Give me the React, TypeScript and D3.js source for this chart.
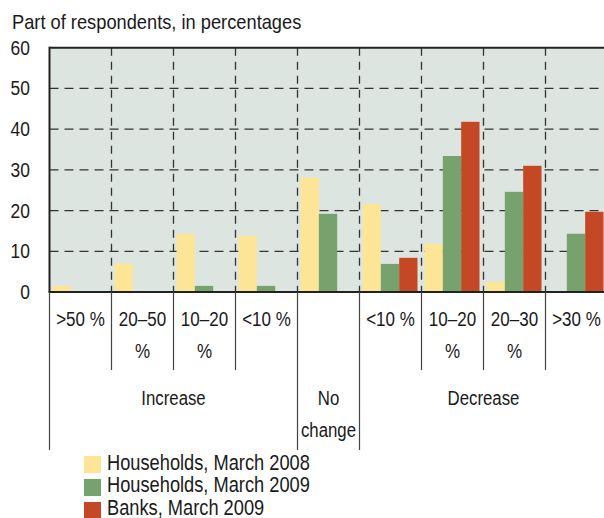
import React from "react";
import * as d3 from "d3";

// Survey answers, share of respondents (%) per expected change
const rowOneLabels = [">50 %", "20–50", "10–20", "<10 %", "", "<10 %", "10–20", "20–30", ">30 %"];
const rowTwoLabels = ["", "%", "%", "", "", "", "%", "%", ""];
const groupLabels = [["Increase"], ["No", "change"], ["Decrease"]];
const groupSpans = [4, 1, 4];

const seriesNames = ["Households, March 2008", "Households, March 2009", "Banks, March 2009"];
const households2008 = [1.5, 7, 14.3, 13.8, 28.1, 21.6, 11.8, 2.5, 0];
const households2009 = [0, 0, 1.5, 1.5, 19.2, 6.9, 33.4, 24.6, 14.3];
const banks2009: (number | null)[] = [null, null, null, null, null, 8.4, 41.8, 31, 19.7];
const seriesColors = ["#fde597", "#77a26e", "#c54826"];

const yTicks = [0, 10, 20, 30, 40, 50, 60];

const W = 604;
const H = 518;
const FONT = "'Liberation Sans', Arial, sans-serif";
const INK = "#1a1a1a";

function Txt(props: { x: number; y: number; anchor?: string; sx?: number; size?: number; children: React.ReactNode }) {
  const { x, y, anchor = "middle", sx = 0.82, size = 21, children } = props;
  return (
    <text
      transform={`translate(${x},${y}) scale(${sx},1)`}
      textAnchor={anchor}
      fontFamily={FONT}
      fontSize={size}
      fill={INK}
    >
      {children}
    </text>
  );
}

export default function App() {
  const idx = d3.range(rowOneLabels.length);
  const x = d3.scaleBand<number>().domain(idx).range([49.5, 607.5]);
  const xs = d3.scaleBand<string>().domain(seriesNames).range([3, 58]);
  const y = d3.scaleLinear().domain([0, 60]).range([292, 47.7]);

  const series = [households2008, households2009, banks2009];
  const left = x.range()[0];
  const right = x.range()[1];
  const step = x.step();
  const top = y(60);
  const base = y(0);

  // group boundaries (category indexes where a group starts)
  const groupStarts: number[] = [];
  groupSpans.reduce((acc, s) => {
    groupStarts.push(acc);
    return acc + s;
  }, 0);
  const boundaries = d3.range(idx.length + 1);
  const isGroupEdge = (b: number) => b === idx.length || groupStarts.includes(b);

  return (
    <svg
      width={W}
      height={H}
      style={{ position: "absolute", left: 0, top: 0, background: "#fff" }}
    >
      <Txt x={12} y={29} anchor="start" sx={0.87}>
        Part of respondents,  in percentages
      </Txt>

      <rect x={left} y={top} width={right - left} height={base - top} fill="#dde5e1" />

      {/* dashed grid */}
      {yTicks
        .filter((t) => t > 0 && t < 60)
        .map((t) => (
          <line
            key={`h${t}`}
            x1={left}
            x2={right}
            y1={y(t)}
            y2={y(t)}
            stroke="#333"
            strokeWidth={1.3}
            strokeDasharray="9 6"
          />
        ))}
      {boundaries
        .filter((b) => b > 0 && b < idx.length)
        .map((b) => (
          <line
            key={`v${b}`}
            x1={left + b * step}
            x2={left + b * step}
            y1={top}
            y2={base}
            stroke="#333"
            strokeWidth={1.3}
            strokeDasharray="8 6"
          />
        ))}

      {/* bars */}
      {series.map((vals, si) =>
        vals.map((v, i) =>
          v == null || v <= 0 ? null : (
            <rect
              key={`b${si}-${i}`}
              x={(x(i) as number) + (xs(seriesNames[si]) as number)}
              y={y(v)}
              width={xs.bandwidth()}
              height={base - y(v)}
              fill={seriesColors[si]}
            />
          )
        )
      )}

      {/* frame */}
      <line x1={left} x2={right} y1={top} y2={top} stroke="#222" strokeWidth={2} />
      <line x1={left} x2={left} y1={top - 1} y2={base} stroke="#222" strokeWidth={2} />
      <line x1={right} x2={right} y1={top - 1} y2={base} stroke="#222" strokeWidth={2} />
      <line x1={left - 1} x2={right} y1={base} y2={base} stroke="#222" strokeWidth={2} />

      {/* y tick labels */}
      {yTicks.map((t) => (
        <Txt key={`yl${t}`} x={30} y={y(t) + 7} anchor="end" sx={0.83}>
          {t}
        </Txt>
      ))}

      {/* category separators below the axis */}
      {boundaries.map((b) => (
        <line
          key={`s${b}`}
          x1={left + b * step}
          x2={left + b * step}
          y1={base}
          y2={isGroupEdge(b) ? 450 : 370}
          stroke="#444"
          strokeWidth={1.2}
        />
      ))}

      {/* category labels */}
      {idx.map((i) => (
        <g key={`c${i}`}>
          {rowOneLabels[i] && (
            <Txt x={(x(i) as number) + step / 2} y={325.5} sx={0.81}>
              {rowOneLabels[i]}
            </Txt>
          )}
          {rowTwoLabels[i] && (
            <Txt x={(x(i) as number) + step / 2} y={357.5} sx={0.81}>
              {rowTwoLabels[i]}
            </Txt>
          )}
        </g>
      ))}

      {/* group labels */}
      {groupLabels.map((lines, gi) => {
        const start = groupStarts[gi];
        const cx = left + (start + groupSpans[gi] / 2) * step;
        return lines.map((ln, li) => (
          <Txt key={`g${gi}-${li}`} x={cx} y={405 + li * 32} sx={0.8}>
            {ln}
          </Txt>
        ));
      })}

      {/* legend */}
      {seriesNames.map((name, si) => (
        <g key={`lg${si}`}>
          <rect x={84} y={456 + si * 23} width={17} height={17} fill={seriesColors[si]} />
          <Txt x={107} y={469.5 + si * 22.5} anchor="start" sx={0.83} size={22}>
            {name}
          </Txt>
        </g>
      ))}
    </svg>
  );
}
